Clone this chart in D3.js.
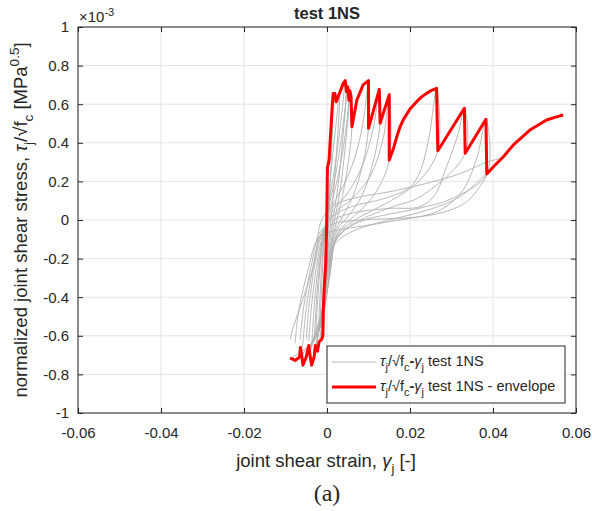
<!DOCTYPE html>
<html><head><meta charset="utf-8">
<script src="https://cdn.jsdelivr.net/npm/d3@7"></script>
<style>
html,body{margin:0;padding:0;background:#fff;}
svg{display:block;}
text{font-family:"Liberation Sans",Arial,sans-serif;fill:#262626;}
</style></head>
<body>
<svg id="chart" width="592" height="511"></svg>
<script>
// ---- data (strain [-], normalized stress [x1e-3 MPa^0.5]) ----
const xTicks = [-0.06, -0.04, -0.02, 0, 0.02, 0.04, 0.06];
const xTickLabels = ["-0.06", "-0.04", "-0.02", "0", "0.02", "0.04", "0.06"];
const yTicks = [-1, -0.8, -0.6, -0.4, -0.2, 0, 0.2, 0.4, 0.6, 0.8, 1];
const yTickLabels = ["-1", "-0.8", "-0.6", "-0.4", "-0.2", "0", "0.2", "0.4", "0.6", "0.8", "1"];

const envelopeStrain = [-0.0089,-0.0083,-0.0077,-0.0066,-0.0064,-0.0061,-0.0058,-0.0050,-0.0044,-0.0041,-0.0037,-0.0031,-0.0028,-0.0023,-0.0019,-0.0013,-0.0010,-0.0009,-0.0007,-0.0003,-0.0001,0.0001,0.0005,0.0008,0.0011,0.0013,0.0015,0.0019,0.0022,0.0030,0.0039,0.0044,0.0047,0.0050,0.0053,0.0055,0.0058,0.0060,0.0072,0.0087,0.0100,0.0100,0.0126,0.0128,0.0150,0.0150,0.0160,0.0168,0.0176,0.0184,0.0200,0.0216,0.0228,0.0240,0.0252,0.0264,0.0267,0.0331,0.0333,0.0383,0.0385,0.0401,0.0425,0.0449,0.0489,0.0509,0.0529,0.0549,0.0569];
const envelopeStress = [-0.717,-0.72,-0.728,-0.71,-0.66,-0.70,-0.752,-0.71,-0.65,-0.70,-0.752,-0.71,-0.65,-0.68,-0.63,-0.62,-0.60,-0.47,-0.36,-0.22,-0.05,0.27,0.31,0.42,0.53,0.60,0.656,0.656,0.613,0.656,0.708,0.722,0.665,0.69,0.62,0.67,0.64,0.483,0.622,0.70,0.722,0.475,0.677,0.501,0.649,0.311,0.37,0.43,0.483,0.52,0.575,0.613,0.638,0.656,0.672,0.682,0.359,0.579,0.346,0.522,0.238,0.276,0.328,0.389,0.466,0.492,0.518,0.532,0.544];

const loop1 = [[-0.0008,-0.45],[-0.0005,-0.25],[-0.0002,-0.05],[0.0002,0.2],[0.0008,0.45],[0.0015,0.656],[0.0015,0.60],[0.0011,0.35],[0.0005,0.05],[0.0,-0.25],[-0.0006,-0.48],[-0.0010,-0.60]];
const loop2 = [[-0.0010,-0.55],[-0.0007,-0.35],[-0.0003,-0.12],[0.0003,0.1],[0.0012,0.3],[0.0022,0.5],[0.0030,0.656],[0.0030,0.60],[0.0024,0.38],[0.0014,0.1],[0.0004,-0.12],[-0.0004,-0.38],[-0.0013,-0.60],[-0.0017,-0.63]];
const loop3 = [[-0.0017,-0.55],[-0.0013,-0.35],[-0.0007,-0.12],[0.0002,0.06],[0.0015,0.22],[0.003,0.45],[0.0040,0.64],[0.0044,0.722],[0.0046,0.665],[0.0038,0.42],[0.0025,0.15],[0.0012,-0.03],[0.0002,-0.2],[-0.0008,-0.45],[-0.0021,-0.68]];
const loop4 = [[-0.0021,-0.60],[-0.0017,-0.40],[-0.0010,-0.16],[0.0,0.03],[0.0015,0.17],[0.0033,0.4],[0.0045,0.6],[0.0050,0.69],[0.0053,0.62],[0.0044,0.38],[0.0030,0.13],[0.0015,-0.04],[0.0003,-0.22],[-0.0010,-0.47],[-0.0027,-0.65]];
const loop5 = [[-0.0027,-0.58],[-0.0022,-0.40],[-0.0014,-0.18],[-0.0002,0.0],[0.0016,0.13],[0.0036,0.33],[0.0050,0.55],[0.0055,0.67],[0.0060,0.483],[0.0050,0.28],[0.0035,0.10],[0.0018,-0.05],[0.0004,-0.22],[-0.0012,-0.48],[-0.0031,-0.71]];
const loop6 = [[-0.0031,-0.63],[-0.0026,-0.44],[-0.0017,-0.22],[-0.0005,-0.04],[0.0015,0.08],[0.004,0.18],[0.0068,0.33],[0.0088,0.52],[0.0100,0.722],[0.0100,0.475],[0.0085,0.28],[0.0062,0.12],[0.0038,0.02],[0.0017,-0.07],[0.0003,-0.25],[-0.0014,-0.5],[-0.0037,-0.75]];
const loop7 = [[-0.0037,-0.66],[-0.0031,-0.45],[-0.0021,-0.24],[-0.0007,-0.06],[0.0015,0.05],[0.005,0.14],[0.0085,0.28],[0.0112,0.48],[0.0126,0.677],[0.0128,0.501],[0.0110,0.29],[0.0085,0.13],[0.0055,0.03],[0.0025,-0.05],[0.0006,-0.22],[-0.0016,-0.5],[-0.0044,-0.70]];
const loop8 = [[-0.0044,-0.63],[-0.0037,-0.44],[-0.0025,-0.24],[-0.0009,-0.07],[0.0015,0.03],[0.006,0.11],[0.0105,0.23],[0.0135,0.42],[0.0150,0.649],[0.0150,0.311],[0.0125,0.17],[0.0090,0.07],[0.0055,0.0],[0.0025,-0.07],[0.0006,-0.25],[-0.0018,-0.52],[-0.0050,-0.71]];
const loop9 = [[-0.0050,-0.62],[-0.0043,-0.44],[-0.0030,-0.24],[-0.0012,-0.07],[0.0015,0.02],[0.0060,0.07],[0.0136,0.11],[0.020,0.17],[0.0224,0.25],[0.0245,0.42],[0.0264,0.682],[0.0267,0.359],[0.0224,0.207],[0.017,0.12],[0.011,0.05],[0.006,-0.01],[0.0025,-0.08],[0.0007,-0.27],[-0.0020,-0.55],[-0.0059,-0.75]];
const loop10 = [[-0.0059,-0.66],[-0.0050,-0.46],[-0.0034,-0.25],[-0.0014,-0.07],[0.0015,0.0],[0.0070,0.04],[0.015,0.06],[0.0224,0.069],[0.0260,0.13],[0.0288,0.276],[0.0315,0.44],[0.0331,0.579],[0.0333,0.346],[0.0224,0.12],[0.016,0.07],[0.010,0.02],[0.0055,-0.03],[0.0022,-0.1],[0.0006,-0.3],[-0.0022,-0.58],[-0.0065,-0.71]];
const loop11 = [[-0.0065,-0.62],[-0.0056,-0.45],[-0.0038,-0.24],[-0.0016,-0.06],[0.0015,-0.02],[0.008,0.0],[0.016,0.008],[0.0224,0.017],[0.028,0.06],[0.0328,0.155],[0.0362,0.33],[0.0383,0.522],[0.0385,0.238],[0.030,0.11],[0.0224,0.062],[0.015,0.03],[0.009,0.0],[0.0045,-0.05],[0.0015,-0.13],[0.0004,-0.32],[-0.0025,-0.6],[-0.0077,-0.728]];
const loop12 = [[-0.0077,-0.64],[-0.0068,-0.47],[-0.0047,-0.27],[-0.0020,-0.09],[0.0010,-0.06],[0.006,-0.04],[0.012,-0.02],[0.020,0.01],[0.028,0.04],[0.034,0.1],[0.0385,0.238],[0.032,0.12],[0.024,0.05],[0.015,0.0],[0.007,-0.05],[0.003,-0.1],[0.0012,-0.15],[0.0002,-0.35],[-0.003,-0.62],[-0.0089,-0.717]];
const loop13 = [[-0.0089,-0.62],[-0.0082,-0.56],[-0.0058,-0.41],[-0.0029,-0.207],[-0.0013,0.0],[0.002,0.08],[0.008,0.12],[0.016,0.15],[0.024,0.19],[0.032,0.24],[0.0385,0.30],[0.0425,0.328],[0.0449,0.389],[0.0489,0.466],[0.0529,0.518],[0.0569,0.544]];
const grayLoops = [loop1, loop2, loop3, loop4, loop5, loop6, loop7, loop8, loop9, loop10, loop11, loop12, loop13];

const titleText = "test 1NS";
const legendLabels = ["test 1NS", "test 1NS - envelope"];

// ---- layout ----
const svg = d3.select("#chart");
const L = 78, R = 576, T = 27, B = 413;
const x = d3.scaleLinear().domain([-0.06, 0.06]).range([L, R]);
const y = d3.scaleLinear().domain([-1, 1]).range([B, T]);
const axisColor = "#262626";

// grid
const grid = svg.append("g");
grid.selectAll("line.gx").data(xTicks).join("line")
  .attr("x1", d => x(d)).attr("x2", d => x(d)).attr("y1", T).attr("y2", B)
  .attr("stroke", "#e4e4e4").attr("stroke-width", 1);
grid.selectAll("line.gy").data(yTicks).join("line")
  .attr("y1", d => y(d)).attr("y2", d => y(d)).attr("x1", L).attr("x2", R)
  .attr("stroke", "#e4e4e4").attr("stroke-width", 1);

// clip
svg.append("clipPath").attr("id", "clip").append("rect")
  .attr("x", L).attr("y", T).attr("width", R - L).attr("height", B - T);
const plot = svg.append("g").attr("clip-path", "url(#clip)");

const grayLine = d3.line().x(d => x(d[0])).y(d => y(d[1])).curve(d3.curveCatmullRom.alpha(0.5));
plot.selectAll("path.gray").data(grayLoops).join("path")
  .attr("d", grayLine).attr("fill", "none")
  .attr("stroke", "#b0b0b0").attr("stroke-width", 0.9);

const envData = envelopeStrain.map((s, i) => [s, envelopeStress[i]]);
const redLine = d3.line().x(d => x(d[0])).y(d => y(d[1]));
plot.append("path").datum(envData).attr("d", redLine).attr("fill", "none")
  .attr("stroke", "#ff0000").attr("stroke-width", 3).attr("stroke-linejoin", "round");

// axes
const fmtX = d => xTickLabels[xTicks.indexOf(d)];
const fmtY = d => yTickLabels[yTicks.indexOf(d)];
function styleAxis(g) {
  g.select(".domain").remove();
  g.selectAll(".tick line").attr("stroke", axisColor);
  g.selectAll("text").attr("fill", axisColor).style("font-size", "15px")
    .style("font-family", '"Liberation Sans", Arial, sans-serif');
}
svg.append("g").attr("transform", `translate(0,${B})`)
  .call(d3.axisBottom(x).tickValues(xTicks).tickFormat(fmtX).tickSize(-5).tickPadding(14)).call(styleAxis);
svg.append("g").attr("transform", `translate(0,${T})`)
  .call(d3.axisTop(x).tickValues(xTicks).tickFormat("").tickSize(-5)).call(styleAxis);
svg.append("g").attr("transform", `translate(${L},0)`)
  .call(d3.axisLeft(y).tickValues(yTicks).tickFormat(fmtY).tickSize(-5).tickPadding(9)).call(styleAxis);
svg.append("g").attr("transform", `translate(${R},0)`)
  .call(d3.axisRight(y).tickValues(yTicks).tickFormat("").tickSize(-5)).call(styleAxis);

svg.append("rect").attr("x", L).attr("y", T).attr("width", R - L).attr("height", B - T)
  .attr("fill", "none").attr("stroke", axisColor).attr("stroke-width", 1);

// exponent
const ex = svg.append("text").attr("x", 79).attr("y", 22).style("font-size", "15px");
ex.append("tspan").text("\u00d710");
ex.append("tspan").attr("dy", -6).style("font-size", "11px").text("-3");

// title
svg.append("text").attr("x", (L + R) / 2).attr("y", 19).attr("text-anchor", "middle")
  .style("font-size", "16.5px").style("font-weight", "bold").text(titleText);

// x label
const xl = svg.append("text").attr("x", (L + R) / 2 - 1).attr("y", 467).attr("text-anchor", "middle")
  .style("font-size", "18.5px");
xl.append("tspan").text("joint shear strain, ");
xl.append("tspan").style("font-style", "italic").text("\u03b3");
xl.append("tspan").attr("dy", 6).style("font-size", "13px").text("j");
xl.append("tspan").attr("dy", -6).text(" [-]");

// y label
const yl = svg.append("text").attr("transform", `translate(27,${(T + B) / 2}) rotate(-90)`)
  .attr("text-anchor", "middle").style("font-size", "18.5px");
yl.append("tspan").text("normalized joint shear stress, ");
yl.append("tspan").style("font-style", "italic").text("\u03c4");
yl.append("tspan").attr("dy", 6).style("font-size", "13.5px").text("j");
yl.append("tspan").attr("dy", -6).text("/\u221Af");
yl.append("tspan").attr("dy", 6).style("font-size", "13.5px").text("c");
yl.append("tspan").attr("dy", -6).text(" [MPa");
yl.append("tspan").attr("dy", -8).style("font-size", "13.5px").text("0.5");
yl.append("tspan").attr("dy", 8).text("]");

// legend
const lg = svg.append("g");
lg.append("rect").attr("x", 327).attr("y", 346).attr("width", 238).attr("height", 57)
  .attr("fill", "#fff").attr("stroke", axisColor).attr("stroke-width", 1);
const legendStyles = [{c: "#b0b0b0", w: 0.9}, {c: "#ff0000", w: 3}];
legendLabels.forEach((lab, i) => {
  const yy = 362 + i * 25;
  lg.append("line").attr("x1", 332).attr("x2", 376).attr("y1", yy).attr("y2", yy)
    .attr("stroke", legendStyles[i].c).attr("stroke-width", legendStyles[i].w);
  const t = lg.append("text").attr("x", 380).attr("y", yy + 4).style("font-size", "14.5px");
  t.append("tspan").style("font-style", "italic").text("\u03c4");
  t.append("tspan").attr("dy", 5).style("font-size", "11px").text("j");
  t.append("tspan").attr("dy", -5).text("/\u221Af");
  t.append("tspan").attr("dy", 5).style("font-size", "11px").text("c");
  t.append("tspan").attr("dy", -5).style("font-weight", "bold").text("-");
  t.append("tspan").style("font-style", "italic").text("\u03b3");
  t.append("tspan").attr("dy", 5).style("font-size", "11px").text("j");
  t.append("tspan").attr("dy", -5).text(" " + lab);
});

// caption
svg.append("text").attr("x", (L + R) / 2).attr("y", 501).attr("text-anchor", "middle")
  .style("font-family", '"Liberation Serif","Times New Roman",serif').style("font-size", "24px")
  .attr("fill", "#000").text("(a)");
</script>
</body></html>
